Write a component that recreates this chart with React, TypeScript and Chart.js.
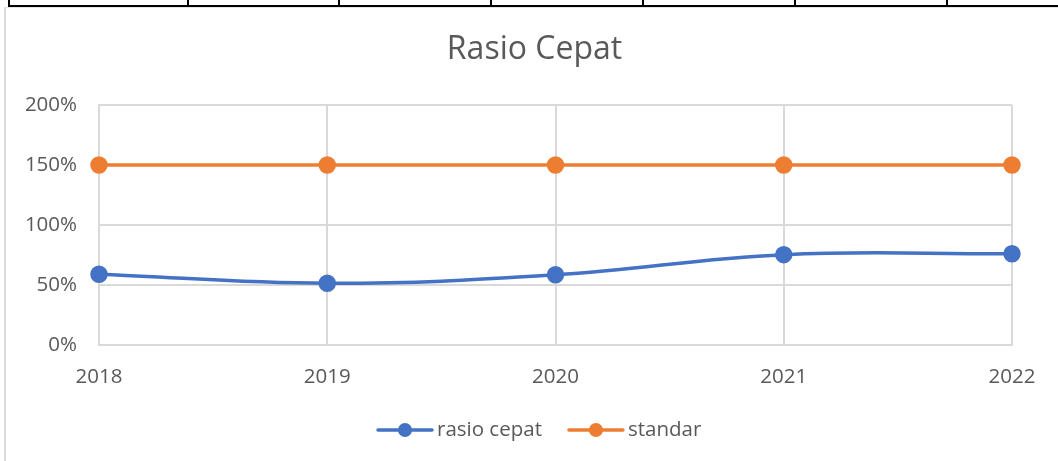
import React, { useEffect, useRef } from "react";
import { Chart, registerables } from "chart.js";

Chart.register(...registerables);

const TITLE = "Rasio Cepat";
const YEARS = ["2018", "2019", "2020", "2021", "2022"];
const RASIO_CEPAT = [0.59, 0.515, 0.585, 0.753, 0.76];
const STANDAR = [1.5, 1.5, 1.5, 1.5, 1.5];
const SERIES_NAMES = ["rasio cepat", "standar"];
const Y_TICKS = [0, 0.5, 1, 1.5, 2];

const BLUE = "#4472C4";
const ORANGE = "#ED7D31";
const TEXT = "#595959";
const GRID = "#D9D9D9";
const FONT = "'Open Sans', sans-serif";

const decorPlugin = {
  id: "decor",
  afterDraw(chart: any) {
    const ctx = chart.ctx as CanvasRenderingContext2D;
    ctx.save();
    // title
    ctx.fillStyle = TEXT;
    ctx.font = `32px ${FONT}`;
    ctx.textAlign = "center";
    ctx.textBaseline = "alphabetic";
    ctx.fillText(TITLE, 534.5, 59);
    // legend
    ctx.font = `20.5px ${FONT}`;
    ctx.textAlign = "left";
    ctx.textBaseline = "middle";
    let x = 378;
    const y = 430;
    chart.data.datasets.forEach((ds: any) => {
      ctx.strokeStyle = ds.borderColor;
      ctx.lineWidth = 3.5;
      ctx.lineCap = "round";
      ctx.beginPath();
      ctx.moveTo(x, y);
      ctx.lineTo(x + 54, y);
      ctx.stroke();
      ctx.fillStyle = ds.borderColor;
      ctx.beginPath();
      ctx.arc(x + 27, y, 7, 0, Math.PI * 2);
      ctx.fill();
      ctx.fillStyle = TEXT;
      ctx.fillText(ds.label, x + 59, y);
      x += 59 + ctx.measureText(ds.label).width + 27;
    });
    ctx.restore();
  },
};

function ChartCanvas() {
  const ref = useRef<HTMLCanvasElement | null>(null);
  useEffect(() => {
    if (!ref.current) return;
    const chart = new Chart(ref.current, {
      type: "line",
      data: {
        labels: YEARS,
        datasets: [
          {
            label: SERIES_NAMES[0],
            data: RASIO_CEPAT,
            borderColor: BLUE,
            backgroundColor: BLUE,
            pointBackgroundColor: BLUE,
            pointBorderColor: BLUE,
            borderWidth: 3.5,
            pointRadius: 7,
            pointHoverRadius: 7,
            tension: 0.4,
          },
          {
            label: SERIES_NAMES[1],
            data: STANDAR,
            borderColor: ORANGE,
            backgroundColor: ORANGE,
            pointBackgroundColor: ORANGE,
            pointBorderColor: ORANGE,
            borderWidth: 3.5,
            pointRadius: 7,
            pointHoverRadius: 7,
            tension: 0,
          },
        ],
      },
      options: {
        responsive: false,
        animation: false,
        events: [],
        layout: { padding: { left: 0, right: 46, top: 105, bottom: 76 } },
        plugins: {
          legend: { display: false },
          title: { display: false },
          tooltip: { enabled: false },
        },
        scales: {
          x: {
            offset: false,
            grid: { color: GRID, lineWidth: 2, drawTicks: false },
            border: { color: GRID, width: 2 },
            ticks: {
              color: TEXT,
              font: { family: FONT, size: 20.5 },
              padding: 20,
              maxRotation: 0,
              autoSkip: false,
            },
            afterFit(scale: any) {
              scale.height = 40;
            },
          },
          y: {
            min: 0,
            max: 2,
            afterBuildTicks(scale: any) {
              scale.ticks = Y_TICKS.map((v) => ({ value: v }));
            },
            grid: { color: GRID, lineWidth: 2, drawTicks: false },
            border: { color: GRID, width: 2 },
            ticks: {
              color: TEXT,
              font: { family: FONT, size: 20.5 },
              padding: 22,
              callback: (v: any) => `${Math.round(Number(v) * 100)}%`,
            },
            afterFit(scale: any) {
              scale.width = 99;
            },
          },
        },
      },
      plugins: [decorPlugin],
    });
    return () => chart.destroy();
  }, []);
  return <canvas ref={ref} width={1058} height={461} style={{ position: "absolute", left: 0, top: 0 }} />;
}

const TABLE_COLS = [8, 187, 338, 490, 642, 794, 946];

export default function App() {
  return (
    <div
      style={{
        position: "fixed",
        left: 0,
        top: 0,
        width: 1058,
        height: 461,
        background: "#fff",
        overflow: "hidden",
      }}
    >
      <div style={{ position: "absolute", left: 4, top: 7, width: 1060, height: 460, borderLeft: "2px solid #D9D9D9", borderTop: "1px solid #E6E6E6" }} />
      <ChartCanvas />
      <div style={{ position: "absolute", left: 8, top: 5, width: 1050, height: 2, background: "#000" }} />
      {TABLE_COLS.map((c) => (
        <div key={c} style={{ position: "absolute", left: c, top: 0, width: 2, height: 6, background: "#000" }} />
      ))}
    </div>
  );
}
